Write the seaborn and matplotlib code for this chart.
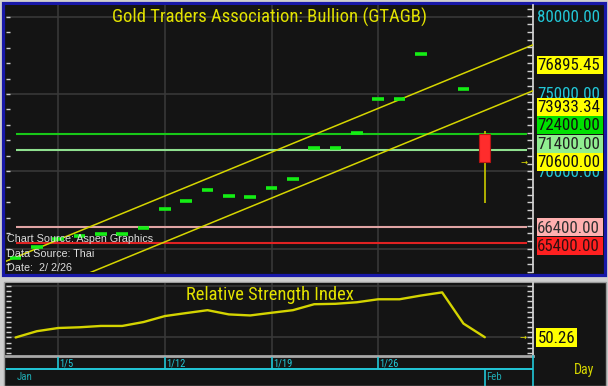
import numpy as np
import pandas as pd
import matplotlib
matplotlib.use("Agg")
import matplotlib.pyplot as plt
import matplotlib.transforms as mtransforms
from matplotlib import font_manager as fm
from matplotlib.patches import Rectangle
from matplotlib.lines import Line2D
import seaborn as sns

# ---------------- data ----------------
dates = ["1/1", "1/2", "1/5", "1/6", "1/7", "1/8", "1/9",
         "1/12", "1/13", "1/14", "1/15", "1/16",
         "1/19", "1/20", "1/21", "1/22", "1/23",
         "1/26", "1/27", "1/28", "1/29", "1/30", "2/2"]
closes = [64400, 65150, 65650, 65850, 65950, 65950, 66350,
          67550, 68100, 68800, 68400, 68350,
          68950, 69500, 71500, 71500, 72500,
          74700, 74700, 77600, np.nan, 75300, 70600]
last_open, last_high, last_low = 72400, 72600, 67950
rsi = [50.0, 56.1, 59.2, 59.9, 61.2, 61.2, 65.0,
       70.8, 73.7, 76.5, 72.4, 71.4,
       74.0, 76.5, 82.3, 82.7, 84.2,
       87.1, 87.1, 90.7, 93.8, 63.5, 50.26]
levels = [72400.00, 71400.00, 66400.00, 65400.00]
channel_upper = [64465.45, 76895.45]   # value at first and last date
channel_lower = [61503.34, 73933.34]
week_labels = ["1/5", "1/12", "1/19", "1/26"]
month_labels = ["Jan", "Feb"]
price_axis_labels = [65000, 70000, 75000, 80000]
title = "Gold Traders Association: Bullion (GTAGB)"
rsi_title = "Relative Strength Index"
notes = ["Chart Source: Aspen Graphics", "Data Source: Thai", "Date:  2/ 2/26"]

# ---------------- style ----------------
sns.set_theme(style="dark")


def has_font(name):
    try:
        fm.findfont(fm.FontProperties(family=name), fallback_to_default=False)
        return True
    except Exception:
        return False


NARROW = "Liberation Sans"
for cand in ["Liberation Sans Narrow", "Arial Narrow", "Roboto Condensed",
             "Archivo Narrow", "Arimo"]:
    if has_font(cand):
        NARROW = cand
        break
plt.rcParams["font.family"] = ["Liberation Sans", "DejaVu Sans"]

BG = "#141414"
GRID = "#3a3a3a"
YEL = "#e2e200"
CYAN = "#22c8d8"

W, H = 608, 386
fig = plt.figure(figsize=(W / 100, H / 100), dpi=100, facecolor="#cfcfcf")
PX = mtransforms.Affine2D().scale(1 / W, -1 / H).translate(0, 1) + fig.transFigure
renderer = fig.canvas.get_renderer()


def fit(text, family, target_px, ref=10.0):
    t = fig.text(0, 0, text, fontsize=ref, family=family)
    w = t.get_window_extent(renderer=renderer).width
    t.remove()
    return ref * target_px / w


def rect(x0, y0, x1, y1):
    return [x0 / W, 1 - y1 / H, (x1 - x0) / W, (y1 - y0) / H]


FS_LABEL = fit("80000.00", NARROW, 62)
FS_TITLE = fit(title, NARROW, 314)
FS_RSI_T = fit(rsi_title, NARROW, 167)
FS_NOTE = fit(notes[0], "Liberation Sans", 145)
FS_DATE = 7.6
FS_MONTH = 7.8
FS_DAY = 10

# panel backgrounds
fig.add_artist(Rectangle((2.5, 2.5), 602, 272, transform=PX, fc=BG, ec="#1818a8",
                         lw=2.3, zorder=-2))
fig.add_artist(Rectangle((3.5, 282), 602, 104, transform=PX, fc=BG, ec="#9a9a9a",
                         lw=1.0, zorder=-2))

x = np.arange(len(dates))
xlo, xhi = -0.45, 24.26
week_pos = [dates.index(d) for d in week_labels]
feb_pos = dates.index("2/2")

# ---------------- main price panel ----------------
ax = fig.add_axes(rect(6, 5, 533, 272))
ax.set_facecolor(BG)
ax.set_xlim(xlo, xhi)
ax.set_ylim(63516, 80742)
ax.set_xticks(week_pos)
ax.set_yticks(price_axis_labels)
ax.grid(True, color=GRID, lw=1.1)
ax.tick_params(axis="x", length=0, labelbottom=False)
ax.tick_params(axis="y", length=0, labelleft=False)
for s in ["top", "bottom", "left"]:
    ax.spines[s].set_visible(False)
ax.spines["right"].set_color("#cfcfcf")
ax.spines["right"].set_linewidth(1.3)
axl = ax.twinx()
axl.set_ylim(ax.get_ylim())
axl.yaxis.set_ticks_position("left")
axl.set_yticks(np.arange(64000, 81000, 1000))
axl.tick_params(axis="y", direction="in", length=3, width=1, color="#d0d0d0",
                labelleft=False, labelright=False)
axr = ax.twinx()
axr.set_ylim(ax.get_ylim())
axr.set_yticks(np.arange(63500, 81000, 500))
axr.tick_params(axis="y", direction="in", length=4, width=1, color="#d0d0d0",
                labelleft=False, labelright=False)
for a in (axl, axr):
    for s in a.spines.values():
        s.set_visible(False)
    a.set_ylabel("")

# channel lines
slope_u = (channel_upper[1] - channel_upper[0]) / (x[-1] - x[0])
slope_l = (channel_lower[1] - channel_lower[0]) / (x[-1] - x[0])
xs = np.array([xlo, xhi])
chan = pd.DataFrame({
    "x": np.concatenate([xs, xs]),
    "y": np.concatenate([channel_upper[0] + slope_u * (xs - x[0]),
                         channel_lower[0] + slope_l * (xs - x[0])]),
    "line": ["upper"] * 2 + ["lower"] * 2,
})
sns.lineplot(data=chan, x="x", y="y", units="line", estimator=None, color="#d6d600",
             lw=1.1, ax=ax, zorder=3)

level_colors = ["#18c818", "#8fe08f", "#e0a4a4", "#e02222"]
for lv, c in zip(levels, level_colors):
    ax.hlines(lv, x[0], xhi - 0.3, color=c, lw=1.5, zorder=2)

ax.hlines(closes[:-1], x[:-1] - 0.27, x[:-1] + 0.27, color="#14ee14", lw=2.6, zorder=4)
ax.vlines(x[-1], last_low, last_high, color="#bcbc00", lw=1.3, zorder=4)
ax.bar(x[-1], closes[-1] - last_open, bottom=last_open, width=0.52,
       color="#ff2c2c", edgecolor="#b81414", lw=0.8, zorder=5)
ax.text(xhi - 0.25, closes[-1], "\u2192", color=YEL, fontsize=6, ha="right",
        va="center", family="DejaVu Sans", zorder=6)

ax.text(0.5, 1 - 12 / 267, title, transform=ax.transAxes, ha="center", va="center",
        color=YEL, fontsize=FS_TITLE, family=NARROW, zorder=7)

for i, t in enumerate(notes):
    fig.text(7 / W, 1 - (239 + 14.6 * i) / H, t, color="#dcdcdc", fontsize=FS_NOTE,
             va="center", ha="left", family="Liberation Sans", zorder=8)

ax.set_xlabel("")
ax.set_ylabel("")

# ---------------- right labels ----------------
fig.canvas.draw()


def ypix(axis, v):
    return H - axis.transData.transform((0, v))[1]


for v in price_axis_labels:
    fig.text(537 / W, 1 - (ypix(ax, v) + 0.8) / H, f"{v:.2f}", color=CYAN,
             fontsize=FS_LABEL, family=NARROW, ha="left", va="center", zorder=4)

box_vals = [channel_upper[1], channel_lower[1]] + levels + [closes[-1]]
box_fc = ["#ffff00", "#ffff00", "#00e000", "#90ee90", "#ffb0b0", "#ff2020", "#ffff00"]
box_tc = ["#101010", "#101010", "#101010", "#202020", "#303030", "#301010", "#101010"]
raw = [ypix(ax, v) for v in box_vals]
gap = 18.5
anchor = box_vals.index(closes[-1])
pos = list(raw)
above = sorted([i for i in range(len(raw)) if raw[i] < raw[anchor]], key=lambda i: -raw[i])
below = sorted([i for i in range(len(raw)) if raw[i] > raw[anchor]], key=lambda i: raw[i])
prev = raw[anchor]
for i in above:
    pos[i] = min(raw[i], prev - gap)
    prev = pos[i]
prev = raw[anchor]
for i in below:
    pos[i] = max(raw[i], prev + gap)
    prev = pos[i]
for v, p, fc, tc in zip(box_vals, pos, box_fc, box_tc):
    fig.add_artist(Rectangle((536.5, p - 9), 66, 18, transform=PX, fc=fc, ec="none",
                             zorder=5))
    fig.text(568.5 / W, 1 - (p + 0.8) / H, f"{v:.2f}", color=tc, fontsize=FS_LABEL,
             family=NARROW, ha="center", va="center", zorder=6)

# ---------------- RSI panel ----------------
ax2 = fig.add_axes(rect(6, 283, 533, 355.7))
ax2.set_facecolor(BG)
ax2.set_xlim(xlo, xhi)
ax2.set_ylim(32.3, 102.9)
ax2.set_xticks(week_pos)
ax2.set_yticks([50, 100])
ax2.grid(True, color=GRID, lw=1.1)
ax2.tick_params(axis="x", length=0, labelbottom=False)
ax2.tick_params(axis="y", length=0, labelleft=False)
for s in ["top", "left"]:
    ax2.spines[s].set_visible(False)
ax2.spines["right"].set_color("#d0d0d0")
ax2.spines["right"].set_linewidth(1.3)
ax2.spines["bottom"].set_color("#a8a8a8")
ax2.spines["bottom"].set_linewidth(2.0)
for side in ("left", "right"):
    t = ax2.twinx()
    t.set_ylim(ax2.get_ylim())
    t.yaxis.set_ticks_position(side)
    t.set_yticks(np.arange(35, 103, 5))
    t.tick_params(axis="y", direction="in", length=3.5 if side == "left" else 4.5,
                  width=1, color="#d0d0d0", labelleft=False, labelright=False)
    for s in t.spines.values():
        s.set_visible(False)
    t.set_ylabel("")

rsi_df = pd.DataFrame({"x": x, "rsi": rsi})
sns.lineplot(data=rsi_df, x="x", y="rsi", color="#d4d400", lw=1.7, ax=ax2, zorder=3)
ax2.set_xlabel("")
ax2.set_ylabel("")
ax2.text(0.5, 1 - 12 / 72.7, rsi_title, transform=ax2.transAxes, ha="center",
         va="center", color=YEL, fontsize=FS_RSI_T, family=NARROW, zorder=6)
ax2.text(xhi - 0.3, rsi[-1], "\u2192", color=YEL, fontsize=6, ha="right",
         va="center", family="DejaVu Sans", zorder=6)

fig.canvas.draw()
py = ypix(ax2, rsi[-1])
fig.add_artist(Rectangle((535.5, py - 9), 41.5, 18.5, transform=PX, fc="#ffff00",
                         ec="none", zorder=5))
fig.text(556.2 / W, 1 - (py + 0.8) / H, f"{rsi[-1]:.2f}", color="#101010",
         fontsize=FS_LABEL, family=NARROW, ha="center", va="center", zorder=6)

# ---------------- date strip ----------------
ax3 = fig.add_axes(rect(6, 356.5, 533, 386))
ax3.set_facecolor(BG)
ax3.set_xlim(xlo, xhi)
ax3.set_ylim(0, 29.5)
ax3.axis("off")
ax3.vlines(week_pos, 17.5, 29.5, color=CYAN, lw=1.2)
ax3.hlines(17.5, xlo, xhi, color=CYAN, lw=1.4)
ax3.vlines(feb_pos, 0, 17.5, color=CYAN, lw=1.2)
for p, lab in zip(week_pos, week_labels):
    ax3.text(p + 0.06, 22.8, lab, color=CYAN, fontsize=FS_DATE, family=NARROW,
             ha="left", va="center")
ax3.text(0.05, 9.5, month_labels[0], color="#1fa8b0", fontsize=FS_MONTH,
         family=NARROW, ha="left", va="center")
ax3.text(feb_pos + 0.08, 9.5, month_labels[1], color="#1fa8b0", fontsize=FS_MONTH,
         family=NARROW, ha="left", va="center")
fig.add_artist(Line2D([533, 533], [356, 386], transform=PX, color=CYAN, lw=1.2, zorder=5))
fig.text(584 / W, 1 - 370 / H, "Day", color="#d6d600", fontsize=FS_DAY, family=NARROW,
         ha="center", va="center", zorder=6)

fig.savefig("out.png", dpi=100, facecolor=fig.get_facecolor())
